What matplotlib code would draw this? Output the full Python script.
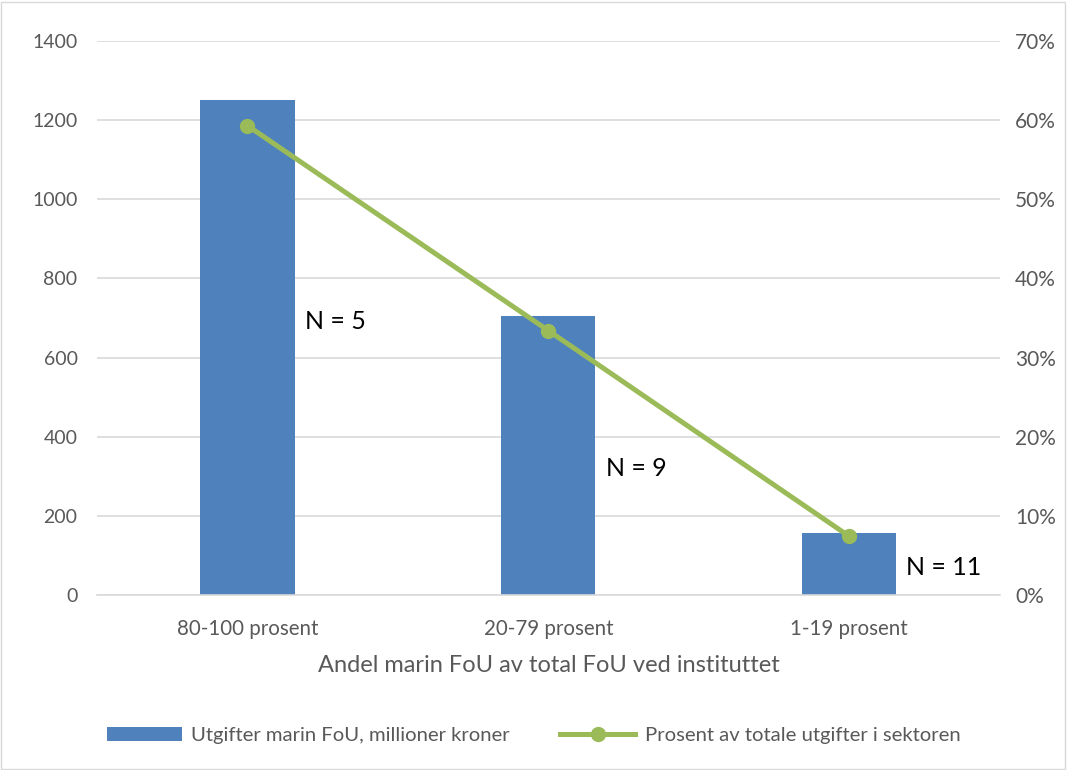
import matplotlib
matplotlib.use("Agg")
import matplotlib.pyplot as plt
from matplotlib.ticker import PercentFormatter

plt.rcParams['font.family'] = ['Lato', 'DejaVu Sans']

categories = ['80-100 prosent', '20-79 prosent', '1-19 prosent']
spending = [1250, 705, 156]
share_pct = [59.3, 33.4, 7.4]
n_labels = ['N = 5', 'N = 9', 'N = 11']
n_label_y = [690, 320, 70]

bar_color = '#4F81BD'
line_color = '#9BBB59'
grey = '#595959'

fig = plt.figure(figsize=(10.67, 7.7), dpi=100)
ax = fig.add_axes([0.0909, 0.2273, 0.8461, 0.7195])
ax2 = ax.twinx()

x = list(range(len(categories)))
bars = ax.bar(x, spending, width=0.313, color=bar_color, zorder=2,
              label='Utgifter marin FoU, millioner kroner')
line, = ax2.plot(x, share_pct, color=line_color, lw=3.6, marker='o', ms=10,
                 label='Prosent av totale utgifter i sektoren', zorder=3)

# N labels next to bars
for i, txt in enumerate(n_labels):
    ax.text(i + 0.19, n_label_y[i], txt, fontsize=18, color='black',
            va='center', ha='left')

ax.set_xlim(-0.5, 2.5)
ax.set_ylim(0, 1400)
ax.set_yticks(range(0, 1401, 200))
ax2.set_ylim(0, 70)
ax2.set_yticks(range(0, 71, 10))
ax2.yaxis.set_major_formatter(PercentFormatter(decimals=0))

ax.set_xticks(x)
ax.set_xticklabels(categories)
ax.set_xlabel('Andel marin FoU av total FoU ved instituttet', fontsize=17,
              color=grey, labelpad=12)

ax.grid(axis='y', color='#D9D9D9', lw=1.2, zorder=0)
ax.set_axisbelow(True)
for a in (ax, ax2):
    for s in a.spines.values():
        s.set_visible(False)
    a.tick_params(length=0, labelsize=14, colors=grey)
ax.spines['bottom'].set_visible(True)
ax.spines['bottom'].set_color('#D9D9D9')
ax.spines['bottom'].set_linewidth(1.2)
ax.tick_params(axis='x', pad=17, labelsize=14.8)
ax2.tick_params(axis='y', pad=11, labelsize=15)
ax.tick_params(axis='y', pad=14)

fig.legend(handles=[bars, line], loc='lower center', ncol=2,
           bbox_to_anchor=(0.5, 0.01), frameon=False, fontsize=14.6,
           handlelength=3.7, handletextpad=0.45, columnspacing=2.5,
           labelcolor=grey)

fig.patches.append(plt.Rectangle((0.001, 0.001), 0.997, 0.997, transform=fig.transFigure,
                                 fill=False, edgecolor='#D9D9D9', lw=1))

fig.savefig('out.png', dpi=100)
